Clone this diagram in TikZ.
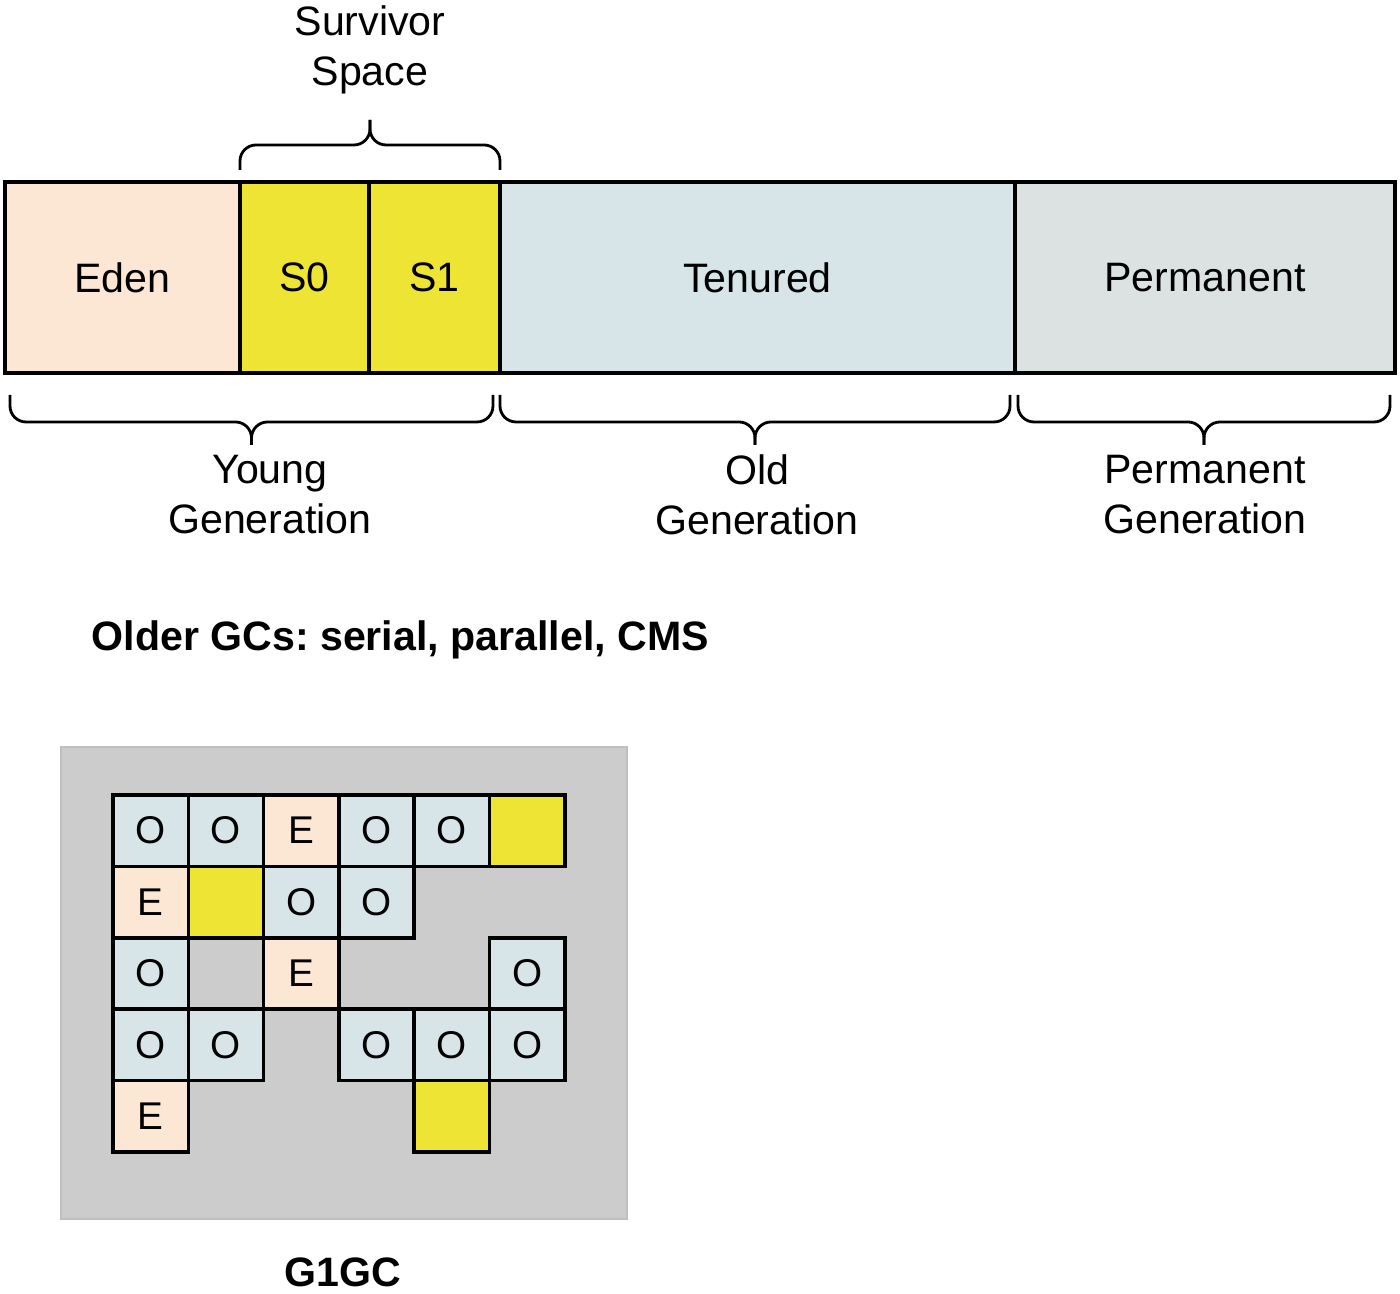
\documentclass[tikz,border=0pt]{standalone}
\usepackage{fontspec}
\setmainfont{Liberation Sans}
\usetikzlibrary{positioning,calc}
\definecolor{edenc}{HTML}{FCE7D4}
\definecolor{survc}{HTML}{EDE433}
\definecolor{oldc}{HTML}{D7E5E8}
\definecolor{permc}{HTML}{DCE2E2}
\definecolor{heapc}{HTML}{CCCCCC}
\newcommand{\gcfont}{\fontsize{11.7}{14.2}\selectfont}
\frenchspacing

\begin{document}
\begin{tikzpicture}[%
    every node/.style={font=\gcfont},
    line width=1pt]
\useasboundingbox (0,0) rectangle (14,12.94);
% -------------------------------------------------
% Box styles
\tikzset{
  seg/.style={draw, minimum height=19.1mm, inner sep=0pt, outer sep=0pt},
  lbl/.style={align=center},
  % braces above and below the heap bar
  brline/.style={draw, line width=0.8pt, rounded corners=1.6mm},
  % G1 regions
  cell/.style={draw, minimum width=7.53mm, minimum height=7.14mm,
    inner sep=0pt, outer sep=0pt, font=\fontsize{11}{12}\selectfont},
  ocell/.style={cell, fill=oldc},
  ecell/.style={cell, fill=edenc},
  scell/.style={cell, fill=survc}
}
% -------------------------------------------------
% The heap bar of the older collectors
\node [seg, fill=edenc, minimum width=23.5mm, anchor=west] (eden) at (0.05,10.165) {Eden};
\node [seg, fill=survc, minimum width=12.9mm, right=0pt of eden] (s0) {S0};
\node [seg, fill=survc, minimum width=13.1mm, right=0pt of s0] (s1) {S1};
\node [seg, fill=oldc, minimum width=51.5mm, right=0pt of s1] (tenured) {Tenured};
\node [seg, fill=permc, minimum width=38mm, right=0pt of tenured] (perm) {Permanent};

% -------------------------------------------------
% Braces: ends of each brace first, then the two halves
\coordinate (sb1) at ([yshift=1.2mm]s0.north west);
\coordinate (sb2) at ([yshift=1.2mm]s1.north east);
\coordinate (yb1) at ([xshift=0.5mm,yshift=-2.2mm]eden.south west);
\coordinate (yb2) at ([xshift=-0.7mm,yshift=-2.2mm]s1.south east);
\coordinate (ob1) at ([yshift=-2.2mm]tenured.south west);
\coordinate (ob2) at ([xshift=-0.5mm,yshift=-2.2mm]tenured.south east);
\coordinate (pb1) at ([xshift=0.3mm,yshift=-2.2mm]perm.south west);
\coordinate (pb2) at ([xshift=-0.5mm,yshift=-2.2mm]perm.south east);

\foreach \e in {sb1,sb2}
  \draw [brline] (\e) |- ($(sb1)!0.5!(sb2)+(0,0.25)$) -- ++(0,0.25);
\foreach \a/\b in {yb1/yb2, ob1/ob2, pb1/pb2} {
  \draw [brline] (\a) |- ($(\a)!0.5!(\b)+(0,-0.27)$) -- ++(0,-0.23);
  \draw [brline] (\b) |- ($(\a)!0.5!(\b)+(0,-0.27)$) -- ++(0,-0.23);
}

\node [lbl] (survlbl) at (3.70,12.44) {Survivor\\Space};
\node [lbl] (younglbl) at (2.70,7.99) {Young\\Generation};
\node [lbl] (oldlbl) at (7.57,7.99) {Old\\Generation};
\node [lbl] (permlbl) at (12.05,7.99) {Permanent\\Generation};

\node [anchor=west, inner sep=0pt, font=\gcfont\bfseries] (olderlbl) at (0.90,6.54)
  {Older GCs: serial, parallel, CMS};

% -------------------------------------------------
% G1 heap: regions on a grid
\node [draw=black!25, line width=0.6pt, fill=heapc, minimum width=56.6mm,
  minimum height=47.2mm, anchor=north west] (g1heap) at (0.60,5.48) {};
\foreach \r/\c/\s/\l in {0/0/ocell/O, 0/1/ocell/O, 0/2/ecell/E, 0/3/ocell/O,
    0/4/ocell/O, 0/5/scell/{}, 1/0/ecell/E, 1/1/scell/{}, 1/2/ocell/O,
    1/3/ocell/O, 2/0/ocell/O, 2/2/ecell/E, 2/5/ocell/O, 3/0/ocell/O,
    3/1/ocell/O, 3/3/ocell/O, 3/4/ocell/O, 3/5/ocell/O, 4/0/ecell/E,
    4/4/scell/{}}
  \node [\s] (c\r\c) at ({1.13+0.3765+\c*0.753},{4.99-0.357-\r*0.714}) {\l};

\node [font=\gcfont\bfseries] (g1lbl) at (3.43,0.22) {G1GC};
\end{tikzpicture}
\end{document}
